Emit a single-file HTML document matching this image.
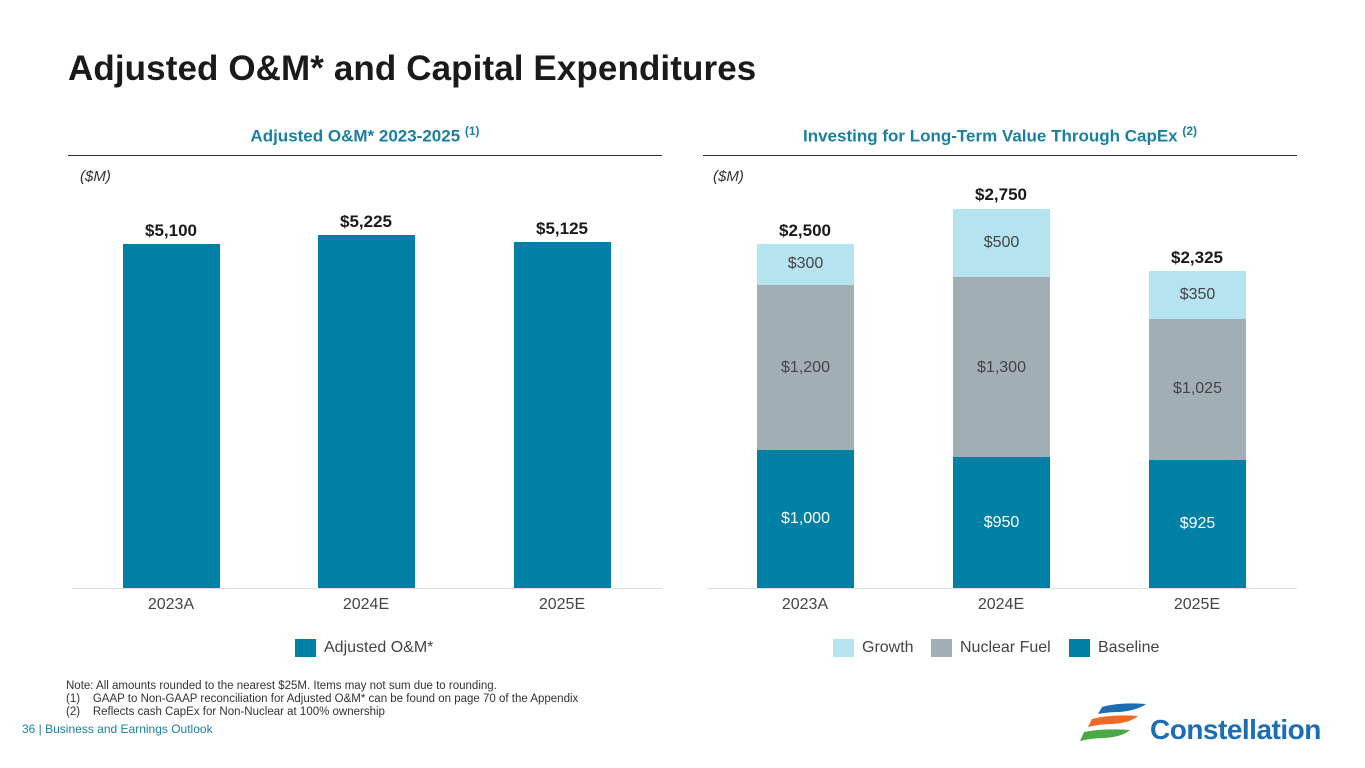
<!DOCTYPE html>
<html><head><meta charset="utf-8"><style>
body{margin:0;width:1365px;height:768px;background:#fff;position:relative;overflow:hidden;font-family:"Liberation Sans",Arial,sans-serif;}
.a{position:absolute}
.t{position:absolute;white-space:nowrap}
.b{background:#0080a5}.g{background:#a2aeb5}.l{background:#b5e3ef}
.v{font-size:16px;color:#fff;text-align:center;width:97px}
.h{font-size:17px;font-weight:bold;color:#1a1a1a;text-align:center;width:130px}
.x{font-size:16px;color:#444;text-align:center;width:120px}
</style></head><body>
<div class="t" style="left:68px;top:49px;font-size:35px;font-weight:bold;color:#1a1a1a;letter-spacing:0.1px">Adjusted O&amp;M* and Capital Expenditures</div>
<div class="t" style="left:68px;width:594px;text-align:center;top:124px;font-size:17px;font-weight:bold;color:#1a7fa0">Adjusted O&amp;M* 2023-2025 <sup style="font-size:12px">(1)</sup></div>
<div class="t" style="left:703px;width:594px;text-align:center;top:124px;font-size:17px;font-weight:bold;color:#1a7fa0">Investing for Long-Term Value Through CapEx <sup style="font-size:12px">(2)</sup></div>
<div class="a" style="left:68px;top:155px;width:594px;height:1px;background:#333"></div>
<div class="a" style="left:703px;top:155px;width:594px;height:1px;background:#333"></div>
<div class="t" style="left:80px;top:168px;font-size:15px;font-style:italic;color:#333">($M)</div>
<div class="t" style="left:713px;top:168px;font-size:15px;font-style:italic;color:#333">($M)</div>
<div class="a" style="left:72px;top:588px;width:590px;height:1px;background:#ddd"></div>
<div class="a" style="left:707px;top:588px;width:590px;height:1px;background:#ddd"></div>
<div class="a b" style="left:123px;top:244px;width:97px;height:344px"></div>
<div class="a b" style="left:318px;top:235px;width:97px;height:353px"></div>
<div class="a b" style="left:514px;top:242px;width:97px;height:346px"></div>
<div class="t h" style="left:106px;top:221px">$5,100</div>
<div class="t h" style="left:301px;top:212px">$5,225</div>
<div class="t h" style="left:497px;top:219px">$5,125</div>
<div class="t x" style="left:111px;top:596px">2023A</div>
<div class="t x" style="left:306px;top:596px">2024E</div>
<div class="t x" style="left:502px;top:596px">2025E</div>
<div class="a b" style="left:295px;top:639px;width:21px;height:18px"></div>
<div class="t" style="left:324px;top:639px;font-size:16px;color:#444">Adjusted O&amp;M*</div>
<div class="a l" style="left:757px;top:244px;width:97px;height:41px"></div>
<div class="a g" style="left:757px;top:285px;width:97px;height:165px"></div>
<div class="a b" style="left:757px;top:450px;width:97px;height:138px"></div>
<div class="a l" style="left:953px;top:209px;width:97px;height:68px"></div>
<div class="a g" style="left:953px;top:277px;width:97px;height:180px"></div>
<div class="a b" style="left:953px;top:457px;width:97px;height:131px"></div>
<div class="a l" style="left:1149px;top:271px;width:97px;height:48px"></div>
<div class="a g" style="left:1149px;top:319px;width:97px;height:141px"></div>
<div class="a b" style="left:1149px;top:460px;width:97px;height:128px"></div>
<div class="t v" style="left:757px;top:255px;color:#444">$300</div>
<div class="t v" style="left:757px;top:359px;color:#444">$1,200</div>
<div class="t v" style="left:757px;top:510px">$1,000</div>
<div class="t v" style="left:953px;top:234px;color:#444">$500</div>
<div class="t v" style="left:953px;top:359px;color:#444">$1,300</div>
<div class="t v" style="left:953px;top:514px">$950</div>
<div class="t v" style="left:1149px;top:286px;color:#444">$350</div>
<div class="t v" style="left:1149px;top:380px;color:#444">$1,025</div>
<div class="t v" style="left:1149px;top:515px">$925</div>
<div class="t h" style="left:740px;top:221px">$2,500</div>
<div class="t h" style="left:936px;top:185px">$2,750</div>
<div class="t h" style="left:1132px;top:248px">$2,325</div>
<div class="t x" style="left:745px;top:596px">2023A</div>
<div class="t x" style="left:941px;top:596px">2024E</div>
<div class="t x" style="left:1137px;top:596px">2025E</div>
<div class="a l" style="left:833px;top:639px;width:21px;height:18px"></div>
<div class="t" style="left:862px;top:639px;font-size:16px;color:#444">Growth</div>
<div class="a g" style="left:931px;top:639px;width:21px;height:18px"></div>
<div class="t" style="left:960px;top:639px;font-size:16px;color:#444">Nuclear Fuel</div>
<div class="a b" style="left:1069px;top:639px;width:21px;height:18px"></div>
<div class="t" style="left:1098px;top:639px;font-size:16px;color:#444">Baseline</div>
<div class="t" style="left:66px;top:680px;font-size:11.5px;color:#333;line-height:13px">Note: All amounts rounded to the nearest $25M. Items may not sum due to rounding.<br>(1)&nbsp;&nbsp;&nbsp; GAAP to Non-GAAP reconciliation for Adjusted O&amp;M* can be found on page 70 of the Appendix<br>(2)&nbsp;&nbsp;&nbsp; Reflects cash CapEx for Non-Nuclear at 100% ownership</div>
<div class="t" style="left:22px;top:722px;font-size:12px;color:#1a7fa0">36 | Business and Earnings Outlook</div>
<svg class="a" style="left:1080px;top:700px" width="70" height="48">
<path d="M22 7 Q40 2 66 4 Q58 10 40 12 Q28 12 18 14Z" fill="#1b6db4"/>
<path d="M12 19 Q32 14 58 16 Q50 23 32 24 Q20 24 8 27Z" fill="#f06a23"/>
<path d="M4 32 Q24 28 50 30 Q42 37 24 38 Q12 38 0 41Z" fill="#4aa845"/>
</svg>
<div class="t" style="left:1150px;top:714px;font-size:28px;font-weight:bold;color:#1b6db4;letter-spacing:-0.5px">Constellation</div>
</body></html>
